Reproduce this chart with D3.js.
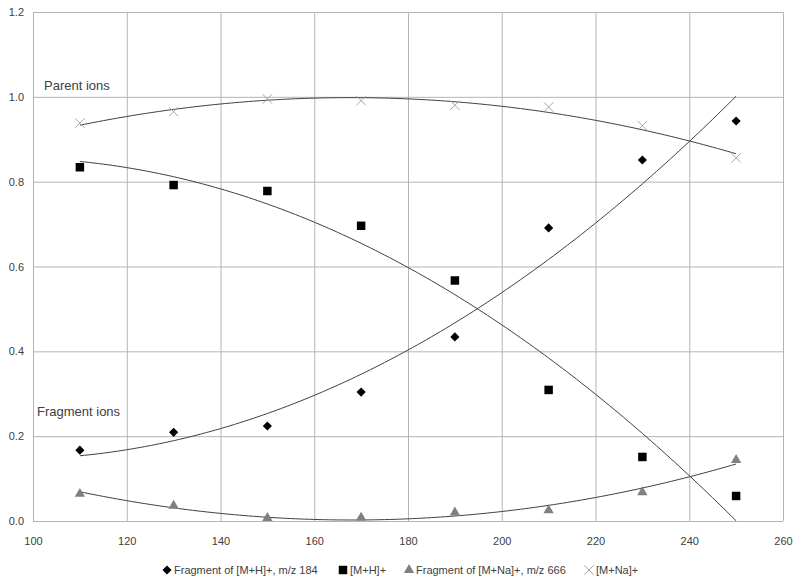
<!DOCTYPE html>
<html>
<head>
<meta charset="utf-8">
<script src="https://cdn.jsdelivr.net/npm/d3@7"></script>
<style>
  body { margin: 0; background: #fff; }
  svg text { font-family: "Liberation Sans", Arial, sans-serif; fill: #404040; }
</style>
</head>
<body>
<svg id="chart" width="800" height="584"></svg>
<script>
// temperatures
const temps = [110, 130, 150, 170, 190, 210, 230, 250];
// relative abundances
const frag184 = [0.167, 0.209, 0.224, 0.304, 0.434, 0.691, 0.851, 0.943];
const mh = [0.834, 0.792, 0.778, 0.696, 0.567, 0.309, 0.151, 0.059];
const frag666 = [0.064, 0.036, 0.007, 0.008, 0.020, 0.025, 0.068, 0.144];
const mna = [0.938, 0.965, 0.995, 0.991, 0.980, 0.976, 0.932, 0.856];

const xTicks = [100, 120, 140, 160, 180, 200, 220, 240, 260];
const yTicks = [0, 0.2, 0.4, 0.6, 0.8, 1.0, 1.2];

const seriesNames = ["Fragment of [M+H]+, m/z 184", "[M+H]+", "Fragment of [M+Na]+, m/z 666", "[M+Na]+"];

const svg = d3.select("#chart");
const margins = { left: 33, right: 17, top: 12, bottom: 63 };
const width = 800 - margins.left - margins.right;
const height = 584 - margins.top - margins.bottom;

const g = svg.append("g")
  .attr("transform", "translate(" + margins.left + "," + margins.top + ")");

const x = d3.scaleLinear().domain([100, 260]).range([0, width]);
const y = d3.scaleLinear().domain([0, 1.2]).range([height, 0]);

// gridlines
g.append("g").attr("class", "xGrid")
  .attr("transform", "translate(0," + height + ")")
  .call(d3.axisBottom(x).tickValues(xTicks).tickSize(-height).tickFormat(""))
  .call(s => s.select(".domain").remove());
g.append("g").attr("class", "yGrid")
  .call(d3.axisLeft(y).tickValues(yTicks).tickSize(-width).tickFormat(""))
  .call(s => s.select(".domain").remove());
g.selectAll(".xGrid line, .yGrid line").attr("stroke", "#b4b4b4").attr("stroke-width", 1);

// tick labels
const xAxis = g.append("g")
  .attr("transform", "translate(0," + height + ")")
  .call(d3.axisBottom(x).tickValues(xTicks).tickSize(0).tickPadding(16));
const yAxis = g.append("g")
  .call(d3.axisLeft(y).tickValues(yTicks).tickSize(0).tickPadding(9).tickFormat(d3.format(".1f")));
[xAxis, yAxis].forEach(a => {
  a.select(".domain").remove();
  a.selectAll("text").attr("font-size", 11).attr("fill", "#404040")
    .attr("font-family", "Liberation Sans, Arial, sans-serif");
});

// quadratic least-squares fit (Excel polynomial trendline, order 2)
function polyfit2(xs, ys) {
  const n = xs.length;
  let s = [0, 0, 0, 0, 0], t = [0, 0, 0];
  for (let i = 0; i < n; i++) {
    let p = 1;
    for (let k = 0; k < 5; k++) { s[k] += p; if (k < 3) t[k] += p * ys[i]; p *= xs[i]; }
  }
  const A = [[s[0], s[1], s[2], t[0]], [s[1], s[2], s[3], t[1]], [s[2], s[3], s[4], t[2]]];
  for (let c = 0; c < 3; c++) {
    for (let r = c + 1; r < 3; r++) {
      const f = A[r][c] / A[c][c];
      for (let k = c; k < 4; k++) A[r][k] -= f * A[c][k];
    }
  }
  const b = [0, 0, 0];
  for (let r = 2; r >= 0; r--) {
    let v = A[r][3];
    for (let k = r + 1; k < 3; k++) v -= A[r][k] * b[k];
    b[r] = v / A[r][r];
  }
  return xv => b[0] + b[1] * xv + b[2] * xv * xv;
}

const series = [
  { name: seriesNames[0], values: frag184, shape: "diamond", color: "#000000" },
  { name: seriesNames[1], values: mh, shape: "square", color: "#000000" },
  { name: seriesNames[2], values: frag666, shape: "triangle", color: "#808080" },
  { name: seriesNames[3], values: mna, shape: "cross", color: "#a6a6a6" },
];

function symbolPath(shape) {
  if (shape === "diamond") return d3.symbol(d3.symbolSquare, 42)();
  if (shape === "square") return d3.symbol(d3.symbolSquare, 72)();
  if (shape === "triangle") return d3.symbol(d3.symbolTriangle, 46)();
  return d3.symbol(d3.symbolTimes, 60)();
}
function drawSymbol(sel, s) {
  sel.attr("d", symbolPath(s.shape));
  if (s.shape === "cross") sel.attr("fill", "none").attr("stroke", s.color).attr("stroke-width", 1);
  else sel.attr("fill", s.color);
}

// trendlines
const line = d3.line().x(d => x(d[0])).y(d => y(d[1]));
const xs = d3.range(110, 250.01, 1);
series.forEach(s => {
  const f = polyfit2(temps, s.values);
  g.append("path")
    .attr("d", line(xs.map(v => [v, f(v)])))
    .attr("fill", "none")
    .attr("stroke", "#404040")
    .attr("stroke-width", 1);
});

// markers
series.forEach(s => {
  g.selectAll(null)
    .data(s.values.map((v, i) => [temps[i], v]))
    .enter()
    .append("path")
    .attr("transform", d => "translate(" + x(d[0]) + "," + y(d[1]) + ")" + (s.shape === "diamond" ? " rotate(45)" : ""))
    .call(sel => drawSymbol(sel, s));
});

// annotations
g.append("text").attr("x", 11).attr("y", 78).attr("font-size", 13).text("Parent ions");
g.append("text").attr("x", 4).attr("y", 404).attr("font-size", 13).text("Fragment ions");

// legend
const legendX = [167, 343, 409, 589];
const legend = svg.append("g").attr("class", "legend");
series.forEach((s, i) => {
  const item = legend.append("g").attr("transform", "translate(" + legendX[i] + ",570)");
  item.append("path")
    .attr("transform", s.shape === "diamond" ? "rotate(45)" : null)
    .call(sel => drawSymbol(sel, s));
  item.append("text").attr("x", 7).attr("dy", "0.35em").attr("font-size", 11).text(s.name);
});
</script>
</body>
</html>
